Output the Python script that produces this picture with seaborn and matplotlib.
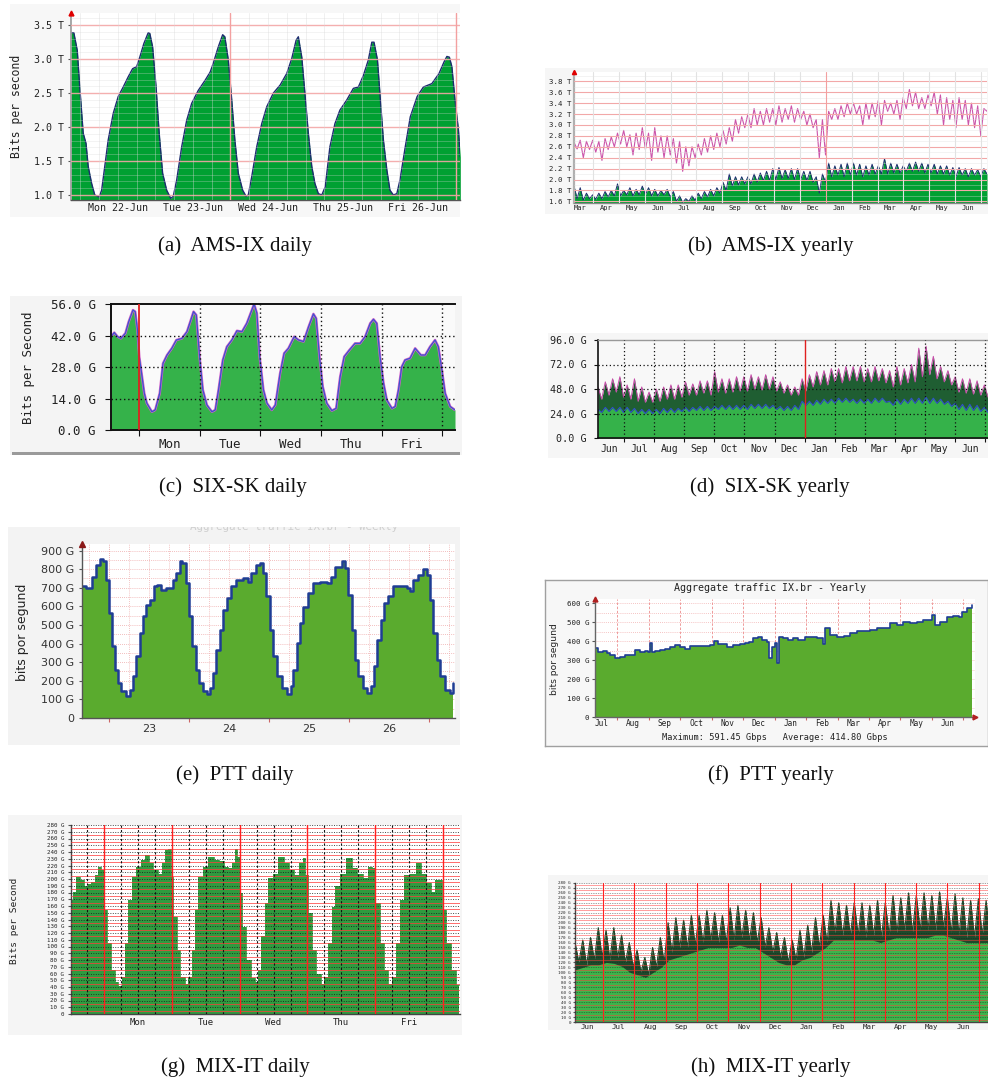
import numpy as np
import matplotlib
matplotlib.use("Agg")
import matplotlib.pyplot as plt
import seaborn as sns

sns.set_theme(style="white")
plt.rcParams['font.family'] = ['DejaVu Sans']

# ---------------- data ----------------
# (a) AMS-IX daily: hours since Mon 22-Jun 00:00, Tbps
a_hours = [-3.0,-2.1,-1.0,-0.2,0.9,1.8,2.5,3.6,4.6,6.0,
           6.8,7.8,8.9,10.5,12.1,13.7,15.3,16.7,18.0,19.0,
           20.3,21.7,22.2,23.1,24.2,25.2,26.3,27.6,28.9,29.7,
           30.8,32.4,34.0,35.6,37.7,39.9,41.5,42.5,44.1,45.5,
           46.2,47.3,48.4,49.4,50.5,51.9,53.0,53.7,54.8,56.4,
           58.0,59.6,61.7,63.9,66.0,67.6,69.0,69.7,70.8,71.8,
           72.9,74.0,75.0,76.1,77.2,78.3,79.8,81.4,83.0,85.2,
           87.3,88.9,90.5,92.1,93.2,93.9,95.0,96.1,96.9,98.0,
           99.0,100.1,101.2,102.2,103.9,105.5,107.7,109.7,112.4,114.7,
           116.3,117.2,118.0,118.8,119.8,120.9,121.5]
a_tbps = [3.39,3.39,3.13,2.59,1.91,1.76,1.42,1.17,1.00,0.97,
          1.07,1.42,1.81,2.20,2.45,2.59,2.74,2.86,2.89,3.03,
          3.23,3.39,3.38,3.18,2.59,1.91,1.32,1.07,0.95,0.98,
          1.22,1.71,2.10,2.35,2.54,2.69,2.81,2.94,3.18,3.36,
          3.33,2.99,2.40,1.81,1.32,1.07,0.98,1.00,1.27,1.71,
          2.05,2.30,2.50,2.62,2.79,3.01,3.28,3.33,3.03,2.50,
          1.91,1.42,1.17,1.02,1.00,1.12,1.71,2.05,2.25,2.40,
          2.57,2.59,2.76,2.99,3.25,3.25,2.99,2.30,1.81,1.37,
          1.07,1.00,1.02,1.22,1.71,2.15,2.45,2.59,2.64,2.79,
          2.96,3.04,3.03,2.89,2.40,1.96,1.56]
a_day_labels = ["Mon 22-Jun", "Tue 23-Jun", "Wed 24-Jun", "Thu 25-Jun", "Fri 26-Jun"]
a_yticks = [1.0, 1.5, 2.0, 2.5, 3.0, 3.5]
a_ylabels = ["1.0 T", "1.5 T", "2.0 T", "2.5 T", "3.0 T", "3.5 T"]

# (b) AMS-IX yearly: weekly peak / trough (Tbps), months since 1 Mar
b_max_hi = [2.68,2.72,2.70, 2.72,2.70,2.75,2.78, 2.85,2.90,2.82,2.85, 2.95,2.85,2.95,2.80,
            2.80,2.75,2.70,2.60, 2.60,2.65,2.75,2.80,2.85, 2.90,2.95,3.10,3.15, 3.20,3.30,3.25,3.30,
            3.30,3.35,3.30,3.35, 3.30,3.25,3.20,3.10,3.10, 3.25,3.30,3.35,3.40, 3.40,3.35,3.40,3.40,
            3.45,3.45,3.40,3.45,3.50, 3.65,3.60,3.50,3.55, 3.60,3.55,3.50,3.45, 3.50,3.45,3.40,3.35, 3.30]
b_max_lo = [2.56,2.40,2.55, 2.50,2.35,2.55,2.60, 2.65,2.60,2.45,2.55, 2.55,2.35,2.50,2.40,
            2.45,2.30,2.15,2.25, 2.40,2.45,2.50,2.55,2.60, 2.65,2.70,2.85,2.95, 2.95,3.00,3.00,3.05,
            3.00,3.05,3.10,3.05, 3.10,3.00,2.95,2.40,2.45, 3.10,3.10,3.15,3.20, 3.20,3.00,3.10,3.15,
            3.00,3.25,3.20,3.10,3.30, 3.35,3.30,3.30,3.35, 3.20,3.00,3.10,2.95, 3.10,3.00,2.95,2.80, 3.25]
b_avg_hi = [1.88,1.85,1.75, 1.72,1.75,1.78,1.80, 1.92,1.80,1.85,1.82, 1.88,1.85,1.82,1.80,
            1.82,1.78,1.70,1.65, 1.70,1.75,1.78,1.82,1.85, 1.95,2.10,2.05,2.05, 2.05,2.10,2.12,2.15,
            2.20,2.22,2.18,2.20, 2.20,2.15,2.15,2.05,2.10, 2.30,2.25,2.28,2.30, 2.30,2.28,2.25,2.28,
            2.25,2.38,2.30,2.28,2.25, 2.30,2.32,2.30,2.28, 2.28,2.25,2.25,2.22, 2.22,2.20,2.20,2.18, 2.20]
b_avg_lo = [1.65,1.62,1.65, 1.64,1.65,1.68,1.70, 1.70,1.72,1.70,1.72, 1.72,1.70,1.70,1.72,
            1.68,1.60,1.58,1.60, 1.62,1.65,1.68,1.70,1.75, 1.80,1.88,1.90,1.92, 1.92,1.95,1.98,1.98,
            2.00,2.02,2.02,2.00, 2.00,1.98,1.95,1.75,1.95, 2.05,2.08,2.05,2.08, 2.08,2.05,2.08,2.10,
            2.10,2.10,2.12,2.12,2.15, 2.15,2.15,2.12,2.12, 2.10,2.10,2.08,2.05, 2.08,2.05,2.08,2.05, 2.10]
b_months = ["Mar","Apr","May","Jun","Jul","Aug","Sep","Oct","Nov","Dec",
            "Jan","Feb","Mar","Apr","May","Jun"]
b_yticks = [1.6,1.8,2.0,2.2,2.4,2.6,2.8,3.0,3.2,3.4,3.6,3.8]
b_ylabels = ["1.6 T","1.8 T","2.0 T","2.2 T","2.4 T","2.6 T","2.8 T","3.0 T","3.2 T","3.4 T","3.6 T","3.8 T"]

# (c) SIX-SK daily: hours since Mon 00:00, Gbps
c_hours = [-11.2,-9.9,-8.6,-7.3,-5.5,-4.2,-2.5,-1.6,-0.7,0.0,
           1.1,2.0,3.0,5.0,6.3,8.1,9.4,11.0,12.9,14.7,
           16.9,18.9,20.2,21.5,22.6,23.9,25.2,26.8,28.8,30.1,
           31.4,33.1,34.7,36.7,38.7,40.7,42.6,44.6,45.5,46.6,
           47.7,49.2,50.6,52.5,53.9,55.8,57.4,59.1,61.4,63.1,
           65.1,67.1,69.0,70.1,71.4,72.7,74.3,76.3,78.0,79.6,
           81.2,83.3,85.5,87.5,89.5,91.5,92.8,94.1,95.4,96.8,
           98.1,100.1,101.4,102.7,104.0,105.3,107.3,109.3,111.6,113.3,
           115.2,117.2,118.5,119.9,121.2,123.2,125.1]
c_gbps = [41.5,43.3,41.5,40.7,43.0,48.1,53.3,52.6,44.4,32.6,
          23.7,16.3,11.9,8.1,8.9,16.3,29.6,33.3,36.3,40.0,
          40.7,43.7,48.1,52.6,51.1,32.6,17.8,11.1,8.1,8.9,
          17.8,31.1,37.0,40.0,44.1,43.7,47.4,53.3,56.0,51.9,
          32.6,17.8,11.9,8.9,11.1,25.2,34.1,36.3,41.5,40.0,
          39.3,45.9,51.6,49.6,32.6,19.3,11.9,8.6,9.6,23.7,
          32.6,35.6,38.5,38.5,41.5,47.4,49.2,47.4,32.6,20.7,
          13.3,9.6,10.4,17.8,28.1,31.1,31.9,36.3,33.3,33.3,
          37.0,40.0,37.0,26.7,16.3,10.4,8.9]
c_days = ["Mon", "Tue", "Wed", "Thu", "Fri"]
c_yticks = [0, 14, 28, 42, 56]
c_ylabels = ["0.0 G", "14.0 G", "28.0 G", "42.0 G", "56.0 G"]

# (d) SIX-SK yearly: weekly peak / trough (Gbps), months since 1 Jun
d_max_hi = [50,55,58, 60,52,58,50, 45,48,50,52, 52,55,53,56, 56,65,58,58, 60,60,62,60,
            62,60,55,52,50, 58,62,65,66, 68,68,70,70, 70,68,70,68, 66,70,68,72,
            88,90,80,70,66, 60,58,58,56, 52]
d_max_lo = [38,42,45, 40,38,36,35, 35,36,38,38, 40,42,42,44, 42,45,44,45, 46,46,48,47,
            48,46,44,42,42, 46,50,52,52, 55,54,56,56, 55,55,56,54, 50,52,54,55,
            60,62,58,55,52, 45,44,43,42, 40]
d_avg_hi = [28,30,30, 30,30,29,28, 28,28,29,29, 29,30,30,31, 31,31,32,32, 32,32,33,33,
            33,32,31,31,32, 36,36,37,38, 38,39,39,38, 38,38,39,39, 36,38,38,39,
            39,40,39,38,36, 34,33,33,32, 30]
d_avg_lo = [25,26,26, 25,25,24,24, 24,24,25,25, 26,26,27,27, 27,28,28,28, 28,28,29,29,
            29,28,27,27,28, 32,32,33,34, 34,35,35,34, 34,34,35,35, 32,33,34,34,
            34,34,34,33,31, 28,27,27,26, 25]
d_months = ["Jun","Jul","Aug","Sep","Oct","Nov","Dec","Jan","Feb","Mar","Apr","May","Jun"]
d_yticks = [0, 24, 48, 72, 96]
d_ylabels = ["0.0 G", "24.0 G", "48.0 G", "72.0 G", "96.0 G"]

# (e) PTT daily: hours since day 23 00:00, Gbps
e_hours = [-8.1,-7.0,-5.8,-5.0,-4.0,-2.8,-1.8,-1.0,0.0,1.0,
           1.7,2.7,3.7,5.0,6.2,7.2,8.2,9.2,10.2,11.2,
           12.4,13.4,14.4,15.7,17.2,18.4,19.2,20.2,21.2,22.0,
           23.0,24.0,25.0,26.0,27.0,28.2,29.4,30.4,31.2,32.2,
           33.2,34.2,35.4,36.7,38.2,40.2,41.7,42.7,44.2,45.4,
           46.2,47.2,48.2,49.2,50.2,51.7,53.2,54.4,55.2,56.2,
           57.2,58.2,59.7,61.2,63.2,65.2,66.4,67.7,69.7,70.7,
           71.7,72.7,73.7,74.7,76.0,77.2,78.4,79.4,80.4,81.4,
           82.4,83.7,85.2,87.2,89.2,90.2,91.2,92.7,94.0,95.2,
           96.2,97.2,98.2,99.2,100.7,102.2,103.2]
e_gbps = [710,698,698,760,823,853,841,742,564,385,
          259,188,143,120,152,224,331,456,546,608,
          635,707,716,689,698,698,742,778,841,832,
          724,546,385,259,188,143,131,161,242,367,
          474,581,644,707,742,751,733,778,823,835,
          778,653,474,331,224,161,131,170,259,403,
          510,599,671,724,733,724,760,814,846,805,
          662,474,313,224,161,134,170,277,420,528,
          617,653,707,710,698,680,742,769,800,769,
          635,456,313,224,152,134,188]
e_days = ["23", "24", "25", "26"]
e_yticks = [0,100,200,300,400,500,600,700,800,900]
e_ylabels = ["0","100 G","200 G","300 G","400 G","500 G","600 G","700 G","800 G","900 G"]

# (f) PTT yearly: months since 1 Jul, Gbps
f_month = [0.29,0.40,0.55,0.66,0.77,0.93,1.08,1.24,1.40,1.56,
           1.72,1.88,1.99,2.04,2.09,2.20,2.36,2.52,2.67,2.83,
           2.99,3.15,3.31,3.52,3.73,3.95,4.07,4.21,4.48,4.69,
           4.90,5.06,5.17,5.32,5.48,5.59,5.75,5.81,5.91,6.01,
           6.07,6.15,6.28,6.44,6.60,6.75,6.97,7.18,7.34,7.53,
           7.60,7.76,7.97,8.19,8.40,8.61,8.82,9.03,9.24,9.46,
           9.67,9.88,10.09,10.30,10.52,10.73,11.00,11.10,11.26,11.47,
           11.68,11.87,11.95,12.11,12.27]
f_gbps = [363,342,346,337,328,314,319,325,328,354,
          342,346,342,389,342,346,354,360,372,381,
          372,360,377,377,377,381,402,384,367,381,
          384,389,398,416,425,407,398,310,372,389,
          284,425,416,407,416,407,425,425,416,384,
          468,433,425,430,442,454,454,460,468,468,
          495,486,504,495,504,512,539,486,504,530,
          535,530,556,574,591]
f_months = ["Jul","Aug","Sep","Oct","Nov","Dec","Jan","Feb","Mar","Apr","May","Jun"]
f_yticks = [0,100,200,300,400,500,600]
f_ylabels = ["0","100 G","200 G","300 G","400 G","500 G","600 G"]
f_title = "Aggregate traffic IX.br - Yearly"
f_footer = "Maximum: 591.45 Gbps   Average: 414.80 Gbps"

# (g) MIX-IT daily: hours since Mon 00:00, Gbps
g_hours = [-11.7,-10.6,-9.1,-7.9,-6.4,-5.2,-3.8,-2.6,-1.4,-0.5,
           0.4,1.5,3.1,4.5,5.7,6.8,8.0,9.2,10.4,12.2,
           13.9,15.1,16.5,18.1,19.8,21.0,22.2,23.1,24.0,25.1,
           26.3,27.8,29.3,30.4,31.6,32.8,34.0,35.8,38.1,39.9,
           41.7,43.4,44.6,45.8,46.7,47.6,48.4,49.6,51.1,52.6,
           54.0,55.0,56.4,57.6,58.8,60.5,62.9,64.7,66.4,68.2,
           70.0,70.8,71.7,72.9,74.3,75.9,77.4,78.6,80.0,81.2,
           82.4,84.7,86.8,88.8,90.6,92.4,94.2,95.3,96.8,98.3,
           99.8,101.5,102.7,104.2,105.4,107.2,109.5,111.3,113.0,114.8,
           116.6,118.0,119.2,120.4,121.9,123.7,125.8]
g_gbps = [169,181,203,199,190,193,196,206,218,213,
          154,105,65,48,41,55,105,169,203,218,
          228,236,223,213,208,223,243,245,203,144,
          95,55,45,55,95,154,203,218,233,228,
          226,218,216,223,245,233,179,129,80,53,
          48,65,115,164,201,208,233,223,213,206,
          223,231,206,149,95,60,45,55,105,159,
          189,208,231,216,208,201,218,216,164,105,
          65,45,55,105,169,206,208,224,208,194,
          181,199,199,154,105,65,43]
g_days = ["Mon", "Tue", "Wed", "Thu", "Fri"]

# (h) MIX-IT yearly: weekly peak / trough / average (Gbps), months since 1 Jun
h_max_hi = [160,165,170, 190,185,190,175, 160,145,130,150,170, 200,210,205,215, 215,225,220,215,
            230,235,225,220, 210,190,180,170,165, 185,195,210,215, 245,240,235,240,
            240,235,245,240, 255,250,260,255, 260,255,262,250, 258,250,245,248, 245]
h_max_lo = [120,115,125, 130,125,130,120, 110,100,95,110,120, 140,150,150,155, 160,165,160,160,
            165,170,165,160, 150,140,130,120,125, 130,140,150,160, 180,175,175,175,
            170,175,170,175, 180,185,180,185, 185,185,190,180, 175,170,170,175, 170]
h_avg = [105,110,115, 115,120,118,112, 100,95,90,100,110, 125,130,135,140, 145,150,150,150,
         150,155,150,150, 140,130,120,115,115, 125,130,140,150, 165,165,165,165,
         165,165,160,165, 170,170,170,170, 170,175,175,170, 165,160,160,160, 160]
h_months = ["Jun","Jul","Aug","Sep","Oct","Nov","Dec","Jan","Feb","Mar","Apr","May","Jun"]

captions = ["(a)  AMS-IX daily", "(b)  AMS-IX yearly", "(c)  SIX-SK daily", "(d)  SIX-SK yearly",
            "(e)  PTT daily", "(f)  PTT yearly", "(g)  MIX-IT daily", "(h)  MIX-IT yearly"]

# ---------------- helpers ----------------
W, H = 988, 1079
fig = plt.figure(figsize=(W / 100, H / 100), dpi=100)
fig.patch.set_facecolor("white")
MONO = "DejaVu Sans Mono"


def box(x0, y0, x1, y1):
    return [x0 / W, 1 - y1 / H, (x1 - x0) / W, (y1 - y0) / H]


def bg_axes(x0, y0, x1, y1, face, edge=None):
    b = fig.add_axes(box(x0, y0, x1, y1))
    b.set_facecolor(face)
    b.set_xticks([]); b.set_yticks([])
    b.set_xlim(0, 1); b.set_ylim(0, 1)
    for s in b.spines.values():
        if edge is None:
            s.set_visible(False)
        else:
            s.set_color(edge); s.set_linewidth(1.0)
    return b


def add_ax(rect, face="white"):
    ax = fig.add_axes(box(*rect))
    ax.set_facecolor(face)
    return ax


def ylabel_at(ax, text, px, py, rect, **kw):
    x0, y0, x1, y1 = rect
    ax.set_ylabel(text, **kw)
    ax.yaxis.set_label_coords((px - x0) / (x1 - x0), (y1 - py) / (y1 - y0))


def zigzag(x0, x1, hi, lo):
    hi = np.asarray(hi, float); lo = np.asarray(lo, float)
    xs = np.linspace(x0, x1, 2 * len(hi))
    ys = np.column_stack([hi, lo]).ravel()
    return xs, ys


def style_y(ax, pos, labels, size, pad, length=2, color="#222222", family=MONO, tickcolor="#555555"):
    ax.set_yticks(pos)
    ax.set_yticklabels(labels, fontsize=size, family=family, color=color)
    ax.tick_params(axis="y", which="major", left=True, length=length, width=0.8,
                   color=tickcolor, pad=pad, direction="out")


def style_x(ax, major, minor_pos, minor_labels, size, pad, length=0, color="#222222",
            family=MONO, tickcolor="#555555"):
    ax.set_xticks(major)
    ax.set_xticklabels([])
    ax.tick_params(axis="x", which="major", bottom=True, length=length, width=0.8,
                   color=tickcolor, direction="out")
    ax.set_xticks(minor_pos, minor=True)
    ax.set_xticklabels(minor_labels, minor=True, fontsize=size, family=family, color=color)
    ax.tick_params(axis="x", which="minor", bottom=True, length=0, pad=pad)


def spines(ax, **kw):
    for name in ["left", "right", "top", "bottom"]:
        if name in kw:
            c, lw = kw[name]
            ax.spines[name].set_visible(True)
            ax.spines[name].set_color(c)
            ax.spines[name].set_linewidth(lw)
        else:
            ax.spines[name].set_visible(False)


def arrow(ax, x, y, marker, color, ms=4):
    ax.plot([x], [y], marker=marker, color=color, ms=ms, transform=ax.transAxes,
            clip_on=False, zorder=6, mec=color)


# ---------------- (a) AMS-IX daily ----------------
bg_axes(10, 4, 460, 217, "#f7f7f7")
rect = (71, 13, 460, 200)
ax = add_ax(rect)
ax.fill_between(a_hours, a_tbps, 0, color="#00a032", lw=0, zorder=1)
sns.lineplot(x=a_hours, y=a_tbps, ax=ax, color="#1c2c6e", lw=1.0, sort=False, zorder=2)
ax.set_xlim(-3.0, 121.4); ax.set_ylim(0.926, 3.68)
for v in np.arange(1.0, 3.66, 0.1):
    major = abs(v * 2 - round(v * 2)) < 1e-6
    ax.axhline(v, color="#f3a6a6" if major else "#d8d8d8", lw=1.0 if major else 0.6,
               alpha=0.9 if major else 0.35, zorder=3)
for hh in range(0, 121, 6):
    ax.axvline(hh, color="#d8d8d8", lw=0.6, alpha=0.45, zorder=3)
for hh in [48, 120]:
    ax.axvline(hh, color="#f3a0a0", lw=1.0, zorder=3)
style_y(ax, a_yticks, a_ylabels, 7.2, 3, length=2)
style_x(ax, [], [12, 36, 60, 84, 108], a_day_labels, 7.2, 2)
spines(ax, left=("#999999", 1.2), bottom=("#555555", 1.0))
arrow(ax, 0, 1.0, "^", "#e00000", 3.5)
ylabel_at(ax, "Bits per second", 23, 106, rect, fontsize=8.3, family=MONO, color="#222222")

# ---------------- (b) AMS-IX yearly ----------------
bg_axes(545, 68, 990, 214, "#f6f6f6")
rect = (574, 72, 987, 203)
ax = add_ax(rect)
xa, ya = zigzag(0.27, 16.23, b_avg_hi, b_avg_lo)
ax.fill_between(xa, ya, 0, color="#00a032", lw=0, zorder=1)
sns.lineplot(x=xa, y=ya, ax=ax, color="#1c2c6e", lw=0.7, sort=False, zorder=2)
xm, ym = zigzag(0.27, 16.23, b_max_hi, b_max_lo)
sns.lineplot(x=xm, y=ym, ax=ax, color="#cc55aa", lw=0.8, sort=False, zorder=2)
ax.set_xlim(0.27, 16.23); ax.set_ylim(1.57, 3.97)
for v in b_yticks:
    ax.axhline(v, color="#f2a8a8", lw=0.8, zorder=3)
for v in np.arange(1.7, 3.95, 0.2):
    ax.axhline(v, color="#dddddd", lw=0.5, alpha=0.5, zorder=3)
for m in range(1, 17):
    ax.axvline(m, color="#f3a0a0" if m == 10 else "#e2e2e2", lw=0.8, zorder=3)
style_y(ax, b_yticks, b_ylabels, 5.3, 2, length=0)
style_x(ax, [], np.arange(0.5, 16, 1.0), b_months, 5.0, 1.5)
spines(ax, left=("#b0b0b0", 1.6), bottom=("#888888", 1.0))
arrow(ax, 0, 1.0, "^", "#e00000", 3)

# ---------------- (c) SIX-SK daily ----------------
bg_axes(10, 296, 462, 455, "#f4f4f4")
bg_axes(12, 452, 460, 455, "#9a9a9a")
rect = (111, 304, 455, 430)
ax = add_ax(rect, face="#fafafa")
ax.fill_between(c_hours, c_gbps, 0, color="#35b24a", lw=0, zorder=1)
sns.lineplot(x=c_hours, y=c_gbps, ax=ax, color="#d860c8", lw=1.8, sort=False, zorder=2)
sns.lineplot(x=c_hours, y=c_gbps, ax=ax, color="#3a55d0", lw=0.9, sort=False, zorder=2)
ax.set_xlim(-11.2, 125.1); ax.set_ylim(0, 56)
for v in [14, 28, 42]:
    ax.axhline(v, color="#111111", lw=1.0, ls=(0, (1, 2)), zorder=3)
for hh in [24, 48, 72, 96, 120]:
    ax.axvline(hh, color="#111111", lw=1.0, ls=(0, (1, 2)), zorder=3)
ax.axvline(0, color="#e02020", lw=1.3, zorder=3)
style_y(ax, c_yticks, c_ylabels, 9, 7, length=4, tickcolor="#111111")
style_x(ax, [0, 24, 48, 72, 96, 120], [12, 36, 60, 84, 108], c_days, 9, 6, length=4,
        tickcolor="#111111")
spines(ax, left=("#111111", 1.4), bottom=("#111111", 1.4), top=("#111111", 1.4))
ylabel_at(ax, "Bits per Second", 35, 368, rect, fontsize=9, family=MONO, color="#222222")

# ---------------- (d) SIX-SK yearly ----------------
bg_axes(548, 333, 990, 458, "#f6f6f6")
rect = (598, 340, 988, 438)
ax = add_ax(rect, face="#f8f8f8")
xm, ym = zigzag(0.13, 13.1, d_max_hi, d_max_lo)
ax.fill_between(xm, ym, 0, color="#1f5e32", lw=0, zorder=1)
sns.lineplot(x=xm, y=ym, ax=ax, color="#c64aa8", lw=0.7, sort=False, zorder=2)
xa, ya = zigzag(0.13, 13.1, d_avg_hi, d_avg_lo)
ax.fill_between(xa, ya, 0, color="#35b24a", lw=0, zorder=2)
sns.lineplot(x=xa, y=ya, ax=ax, color="#3050c8", lw=0.8, sort=False, zorder=2)
ax.set_xlim(0.13, 13.1); ax.set_ylim(0, 96)
for v in [24, 48, 72]:
    ax.axhline(v, color="#111111", lw=0.9, ls=(0, (1, 2)), zorder=3)
for m in range(1, 14):
    if m == 7:
        ax.axvline(m, color="#e02020", lw=1.0, zorder=3)
    else:
        ax.axvline(m, color="#111111", lw=0.9, ls=(0, (1, 2)), zorder=3)
style_y(ax, d_yticks, d_ylabels, 7.3, 5, length=3, tickcolor="#111111")
style_x(ax, list(range(1, 14)), np.arange(0.5, 13, 1.0), d_months, 7.0, 4, length=3,
        tickcolor="#111111")
spines(ax, left=("#111111", 1.2), bottom=("#111111", 1.2), top=("#999999", 1.0))

# ---------------- (e) PTT daily ----------------
bge = bg_axes(8, 527, 460, 745, "#f3f3f3")
bge.text(0.403, 1.0, "Aggregate traffic IX.br - Weekly", transform=bge.transAxes,
         ha="left", va="center", fontsize=7.8, family=MONO, color="#cfcfcf", clip_on=True)
rect = (82, 544, 455, 718)
ax = add_ax(rect)
ax.fill_between(e_hours, e_gbps, 0, step="post", color="#5aab2e", lw=0, zorder=1)
sns.lineplot(x=e_hours, y=e_gbps, ax=ax, color="#1f3d94", lw=1.8, sort=False,
             drawstyle="steps-post", zorder=2)
ax.set_xlim(-8.1, 103.7); ax.set_ylim(0, 935)
for v in range(50, 935, 50):
    ax.axhline(v, color="#efa8a8", lw=0.6, ls=(0, (1, 1.5)), zorder=0.5)
for hh in range(-6, 104, 6):
    ax.axvline(hh, color="#e88f8f" if hh % 24 == 0 else "#efb0b0", lw=0.6,
               ls=(0, (1, 1.5)), zorder=0.5)
style_y(ax, e_yticks, e_ylabels, 8, 3.5, length=2, family="DejaVu Sans", color="#333333")
style_x(ax, [0, 24, 48, 72, 96], [12, 36, 60, 84], e_days, 8, 4, length=3,
        family="DejaVu Sans", color="#333333", tickcolor="#cc6666")
spines(ax, left=("#555555", 1.0), bottom=("#555555", 1.0))
arrow(ax, 0, 1.0, "^", "#8b1a1a", 4)
ylabel_at(ax, "bits por segund", 29, 632, rect, fontsize=9, family="DejaVu Sans", color="#222222")

# ---------------- (f) PTT yearly ----------------
bg_axes(545, 580, 988, 746, "#f7f7f7", edge="#a0a0a0")
rect = (595, 599, 975, 717)
ax = add_ax(rect)
ax.fill_between(f_month, f_gbps, 0, step="post", color="#5aab2e", lw=0, zorder=1)
sns.lineplot(x=f_month, y=f_gbps, ax=ax, color="#1f3d94", lw=1.2, sort=False,
             drawstyle="steps-post", zorder=2)
ax.set_xlim(0.29, 12.37); ax.set_ylim(0, 623)
for v in range(50, 623, 50):
    ax.axhline(v, color="#f2b0b0", lw=0.6, ls=(0, (1, 1.5)), zorder=0.5)
for m in range(1, 13):
    ax.axvline(m, color="#ec8c8c", lw=0.6, ls=(0, (3, 2)), zorder=0.5)
style_y(ax, f_yticks, f_ylabels, 5.4, 2, length=2)
style_x(ax, list(range(1, 13)), np.arange(0.5, 12, 1.0), f_months, 5.6, 1.5, length=2,
        tickcolor="#cc6666")
spines(ax, left=("#666666", 1.0), bottom=("#666666", 1.0))
arrow(ax, 0, 1.0, "^", "#b02020", 3.5)
arrow(ax, 1.0, 0, ">", "#b02020", 3.5)
ylabel_at(ax, "bits por segund", 559, 659, rect, fontsize=6.6, family="DejaVu Sans", color="#222222")
fig.text(770 / W, 1 - 588 / H, f_title, ha="center", va="center", fontsize=7.2,
         family=MONO, color="#222222")
fig.text(775 / W, 1 - 737 / H, f_footer, ha="center", va="center", fontsize=6.2,
         family=MONO, color="#222222")

# ---------------- (g) MIX-IT daily ----------------
bg_axes(8, 815, 462, 1035, "#f5f5f5")
rect = (71, 825, 460, 1014)
ax = add_ax(rect)
ax.fill_between(g_hours, g_gbps, 0, step="mid", color="#2f9b3f", lw=0, zorder=1)
sns.lineplot(x=g_hours, y=g_gbps, ax=ax, color="#2f9b3f", lw=0.6, sort=False,
             drawstyle="steps-mid", zorder=1.5)
ax.set_xlim(-11.7, 126.0); ax.set_ylim(0, 280)
for v in range(5, 280, 10):
    ax.axhline(v, color="#ff3b3b", lw=0.7, alpha=0.75, zorder=3)
for v in range(10, 281, 10):
    ax.axhline(v, color="#1a1a1a", lw=0.7, ls=(0, (1, 1.5)), alpha=0.8, zorder=3)
for hh in range(-6, 126, 6):
    if hh % 24 == 0:
        ax.axvline(hh, color="#ff2020", lw=1.0, zorder=3)
    else:
        ax.axvline(hh, color="#111111", lw=0.8, ls=(0, (2, 2)), zorder=3)
g_ticks = list(range(0, 281, 10))
g_labels = ["0"] + ["%d G" % t for t in g_ticks[1:]]
style_y(ax, g_ticks, g_labels, 4.2, 3, length=2)
style_x(ax, [], [12, 36, 60, 84, 108], g_days, 6.5, 3)
spines(ax, left=("#444444", 1.0), bottom=("#444444", 1.0))
ylabel_at(ax, "Bits per Second", 19, 921, rect, fontsize=6.8, family=MONO, color="#222222")

# ---------------- (h) MIX-IT yearly ----------------
bg_axes(548, 875, 990, 1030, "#f5f5f5")
rect = (575, 883, 990, 1022)
ax = add_ax(rect)
xm, ym = zigzag(0.1, 13.36, h_max_hi, h_max_lo)
ax.fill_between(xm, ym, 0, color="#1d4a2b", lw=0, zorder=1)
sns.lineplot(x=xm, y=ym, ax=ax, color="#1d4a2b", lw=0.8, sort=False, zorder=1.5)
xa = np.linspace(0.1, 13.36, len(h_avg))
ax.fill_between(xa, h_avg, 0, color="#3cb44b", lw=0, zorder=2)
ax.set_xlim(0.1, 13.36); ax.set_ylim(0, 280)
for v in range(5, 280, 10):
    ax.axhline(v, color="#ff3b3b", lw=0.5, alpha=0.7, zorder=3)
for v in range(10, 281, 10):
    ax.axhline(v, color="#1a1a1a", lw=0.5, ls=(0, (1, 1.5)), alpha=0.8, zorder=3)
for m in range(1, 14):
    ax.axvline(m, color="#ff2020", lw=0.8, zorder=3)
h_ticks = list(range(0, 281, 10))
h_labels = ["0"] + ["%d G" % t for t in h_ticks[1:]]
style_y(ax, h_ticks, h_labels, 3.1, 1.5, length=1.5)
style_x(ax, [], np.arange(0.5, 13, 1.0), h_months, 5.3, 1.5)
spines(ax, left=("#444444", 1.0), bottom=("#444444", 1.0))

# ---------------- captions ----------------
cap_pos = [(235, 251), (771, 251), (233, 492), (770, 492),
           (235, 780), (771, 780), (235, 1072), (771, 1072)]
for text, (cx, cy) in zip(captions, cap_pos):
    fig.text(cx / W, 1 - cy / H, text, ha="center", va="baseline", fontsize=15,
             family="Liberation Serif", color="#111111")

fig.savefig("out.png", dpi=100, facecolor="white")
